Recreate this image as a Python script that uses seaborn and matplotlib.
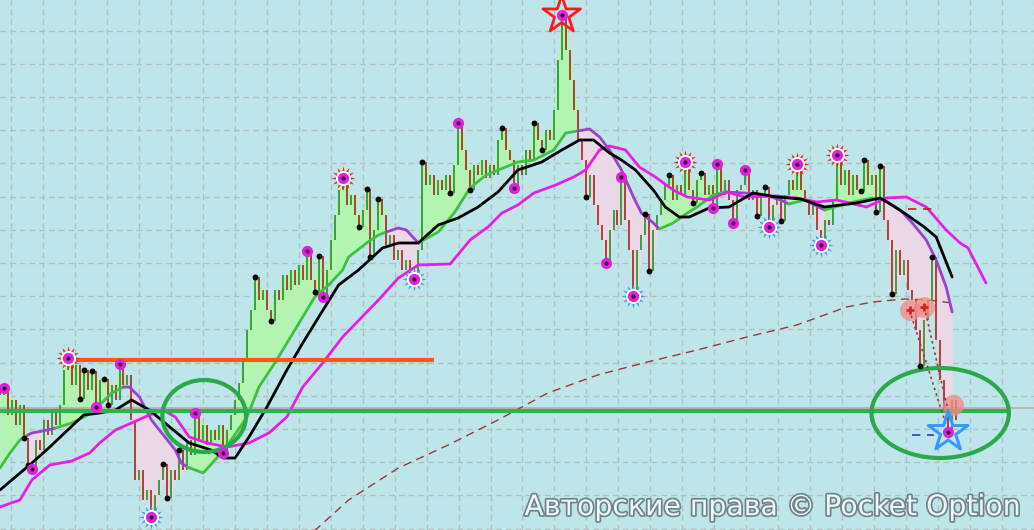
import numpy as np
import seaborn as sns
import matplotlib.pyplot as plt
from matplotlib.patches import Ellipse
import matplotlib.patheffects as pe

# price closes, one per bar (arbitrary points)
closes = [135, 142, 115, 130, 105, 125, 92, 65, 61, 90,
          80, 110, 95, 120, 105, 125, 160, 172, 145, 165,
          131, 160, 140, 159, 123, 150, 151, 125, 145, 130,
          166, 145, 155, 110, 50, 60, 30, 40, 13, 35,
          50, 66, 32, 60, 50, 80, 60, 90, 75, 117,
          90, 105, 85, 100, 90, 105, 77, 100, 115, 130,
          147, 170, 200, 220, 253, 230, 240, 220, 209, 240,
          230, 255, 240, 260, 245, 265, 250, 279, 250, 238,
          274, 233, 260, 290, 315, 340, 352, 325, 335, 315,
          303, 320, 341, 273, 300, 331, 315, 285, 295, 270,
          280, 260, 270, 255, 251, 280, 368, 345, 355, 335,
          350, 340, 355, 337, 365, 407, 380, 360, 340, 365,
          355, 370, 352, 365, 355, 390, 402, 380, 370, 342,
          365, 355, 380, 370, 407, 390, 380, 400, 390, 420,
          470, 515, 480, 450, 420, 390, 370, 333, 355, 325,
          305, 290, 267, 300, 320, 305, 353, 310, 280, 234,
          280, 295, 316, 259, 300, 315, 330, 345, 355, 330,
          345, 335, 368, 340, 327, 350, 357, 335, 345, 322,
          366, 335, 350, 330, 307, 340, 345, 360, 330, 340,
          314, 335, 343, 303, 325, 335, 309, 335, 350, 340,
          366, 340, 330, 315, 325, 300, 285, 310, 305, 330,
          375, 345, 360, 335, 355, 340, 339, 370, 345, 355,
          318, 364, 310, 290, 236, 280, 255, 270, 240, 230,
          200, 164, 210, 230, 273, 190, 150, 120, 98, 130, 110]

# fast MA (black)
ma_fast_x = [0, 8, 12.5, 17, 21, 25, 29, 33, 37.5, 42, 47.5, 53, 56, 59, 62.5, 67, 72, 76, 80, 85,
             90, 96, 100, 105, 110, 115, 120, 125, 130, 136, 141, 145.5, 149, 153, 156, 159.5, 164,
             167, 170.5, 173, 178, 183, 189, 195, 201, 207, 215, 221, 227, 232, 235, 239]
ma_fast_y = [40, 67, 83, 100, 115, 117, 120, 130, 120, 105, 87, 80, 72, 72, 93, 123, 160, 187, 213, 245,
             260, 282, 287, 287, 305, 312, 323, 338, 360, 368, 380, 390, 390, 377, 370, 360, 340,
             323, 313, 313, 322, 323, 337, 333, 331, 323, 327, 332, 317, 303, 293, 253]

# slow MA (magenta)
ma_slow_x = [0, 5, 8, 12.5, 18, 22.5, 25, 29, 33, 37.5, 41, 44, 47.5, 52, 57, 62.5, 67.5, 72, 76, 81,
             86, 95, 100, 105, 113, 118, 122.5, 126, 130, 134, 139.5, 144, 147, 150.5, 153, 157,
             160.5, 164.5, 169, 172.5, 178, 182.5, 187, 195, 200, 205, 210, 217.5, 222.5, 227.5,
             232.5, 237.5, 241, 243, 247.5]
ma_slow_y = [23, 30, 50, 65, 69, 77, 87, 100, 107, 115, 120, 113, 93, 87, 83, 87, 97, 113, 143, 167,
             193, 230, 252, 265, 266, 290, 303, 317, 325, 337, 345, 353, 360, 380, 384, 380,
             363, 353, 340, 333, 330, 338, 333, 334, 332, 328, 330, 323, 332, 333,
             323, 300, 287, 282, 247]

# long MA (brown dashed)
ma_long_x = [75, 87.5, 100, 112.5, 125, 137.5, 150, 162.5, 175, 187.5, 200, 212.5, 219, 227, 233, 239]
ma_long_y = [-15, 30, 62, 85, 110, 137, 155, 168, 180, 193, 205, 223, 228, 231, 230, 227]

# trend trail line and its states
trail_x = [0, 2.5, 5, 7, 8, 12, 14, 18, 22, 25, 28, 31, 32.5, 35, 38, 42, 44, 45.5, 47, 51, 54, 57.5,
           62, 65, 69, 72.5, 76, 79, 82.5, 86, 87.5, 92, 95, 97, 100, 102, 105, 110, 114, 118, 122,
           127, 130, 134, 139, 142, 145, 148, 150.5, 153, 156, 159, 161, 164, 165.5, 169, 172.5,
           175, 179, 182, 187, 192, 196, 198, 202, 207, 213, 219, 222, 226, 229, 232.5, 235,
           237.5, 239]
trail_y = [62, 77, 90, 95, 97, 100, 102, 107, 115, 125, 137, 143, 143, 133, 110, 90, 80, 67, 63, 57, 70, 87,
           113, 143, 167, 190, 213, 233, 245, 260, 273, 287, 295, 298, 302, 300, 287, 298, 317, 342, 355,
           363, 368, 370, 380, 397, 399, 401, 393, 380, 360, 333, 317, 307, 301, 307, 317,
           323, 335, 338, 337, 335, 330, 326, 330, 320, 327, 332, 330, 320, 307, 290, 270,
           243, 218]
trend = [(0, 7, "up"), (7, 14, "dn"), (14, 31, "up"), (31, 47, "dn"), (47, 97, "up"), (97, 105, "dn"),
         (105, 145, "up"), (145, 165.5, "dn"), (165.5, 182, "up"), (182, 198, "dn"), (198, 202, "up"),
         (202, 207, "dn"), (207, 222, "up"), (222, 239, "dn")]

# signal bars
dot_magenta = [1, 8, 24, 30, 49, 56, 77, 81, 115, 129, 152, 156, 179, 180, 184, 187]
dot_black = [6, 7, 20, 21, 23, 26, 27, 41, 42, 45, 64, 68, 79, 80, 90, 92, 93, 95, 106, 113, 118, 126,
             134, 136, 147, 162, 163, 168, 174, 176, 190, 192, 196, 216, 217, 220, 221, 224, 231, 234]
sun_red = [17, 86, 172, 200, 210]
gear_blue = [38, 104, 159, 193, 206]
star_top = 141
star_bottom = 238

resistance = 170
support = 119
last_price = 122

closes = np.array(closes, dtype=float)
idx = np.arange(len(closes))
opens = np.r_[closes[0] + 8, closes[:-1]]
high = np.maximum(opens, closes)
low = np.minimum(opens, closes)

sns.set_theme(style="whitegrid")
fig = plt.figure(figsize=(10.34, 5.30), dpi=100)
ax = fig.add_axes([0, 0, 1, 1])
ax.set_facecolor("#bee6ea")
ax.set_xlim(0, 258.5)
ax.set_ylim(0, 530)
ax.set_xticks([(11 + 32.1 * k) / 4 for k in range(33)])
ax.set_yticks([530 - (30.5 + 33.2 * k) for k in range(16)])
ax.set_xticklabels([])
ax.set_yticklabels([])
ax.tick_params(length=0)
ax.grid(True, color="#afc0c4", linestyle=(0, (4, 3)), linewidth=1)
for s in ax.spines.values():
    s.set_visible(False)

# trend fills
trail_bar = np.interp(idx, trail_x, trail_y)
for a, b, t in trend:
    m = (idx >= a) & (idx <= b)
    if t == "up":
        ax.fill_between(idx[m], trail_bar[m], high[m], color="#b3f5b0", lw=0, zorder=1)
    else:
        ax.fill_between(idx[m], trail_bar[m], low[m], color="#ead8e6", lw=0, zorder=1)

ax.axhline(last_price, color="#b4b8b8", lw=1.5, zorder=1.5)

# bars
cols = np.where(closes >= opens, "#2e9a2e", "#a8352b")
ax.vlines(idx, low, high, colors=cols, lw=1.3, zorder=2)

# trail line by state
xs = np.arange(0, 239.01, 0.25)
ts = np.interp(xs, trail_x, trail_y)
for a, b, t in trend:
    m = (xs >= a) & (xs <= b)
    ax.plot(xs[m], ts[m], color="#3cc23c" if t == "up" else "#9a42c8", lw=2, zorder=3)

sns.lineplot(x=ma_long_x, y=ma_long_y, ax=ax, color="#a0372e", lw=1, dashes=False,
             linestyle=(0, (6, 4)), zorder=2.5)
sns.lineplot(x=ma_slow_x, y=ma_slow_y, ax=ax, color="#e81de8", lw=2, zorder=3)
sns.lineplot(x=ma_fast_x, y=ma_fast_y, ax=ax, color="black", lw=2, zorder=3.1)

# levels
ax.hlines(resistance, 17, 109, color="#ff5514", lw=3, zorder=4)
ax.hlines(support, 0, 253.5, color="#2db34b", lw=3, zorder=4)
ax.add_patch(Ellipse((51.25, 114), 21, 72, fill=False, ec="#2aa84a", lw=3, zorder=4))
ax.add_patch(Ellipse((236, 117), 34.5, 90, fill=False, ec="#2aa84a", lw=3, zorder=4))

# small drawing near the end
ax.scatter([228.3, 232, 239.3], [220, 223, 125], s=230, color="#f08c84", alpha=0.75, lw=0, zorder=4)
ax.scatter([228.3, 232], [220, 223], s=40, marker="+", color="#e02020", lw=2, zorder=4.2)
ax.plot([228.3, 237.5], [220, 105], color="#b03030", lw=1.2, linestyle=(0, (1.5, 2)), zorder=4)
ax.plot([232, 238.5], [223, 110], color="#b03030", lw=1.2, linestyle=(0, (1.5, 2)), zorder=4)
ax.hlines(321, 228, 234, color="#c02020", lw=1.2, linestyle=(0, (5, 4)), zorder=4)
ax.hlines(95, 229, 234.5, color="#2040d0", lw=1.2, linestyle=(0, (5, 4)), zorder=4)

# signal markers
sns.scatterplot(x=idx[dot_black], y=closes[dot_black], ax=ax, s=18, color="black", lw=0, zorder=5)
for pos, c in [(sun_red, "#e8261e"), (gear_blue, "#3b9be8")]:
    ax.scatter(idx[pos], closes[pos], s=300, marker=(12, 1, 0), color=c, lw=0, zorder=5)
    ax.scatter(idx[pos], closes[pos], s=120, color="white", lw=0, zorder=5.1)
mag = dot_magenta + sun_red + gear_blue + [star_top, star_bottom]
sns.scatterplot(x=idx[mag], y=closes[mag], ax=ax, s=65, color="#e020e0", lw=0, zorder=5.2)
sns.scatterplot(x=idx[mag], y=closes[mag], ax=ax, s=9, color="#3a0838", lw=0, zorder=5.3)
ax.scatter(idx[star_top], closes[star_top], s=800, marker="*", facecolor="none",
           edgecolor="#ff1a1a", lw=2, zorder=5)
ax.scatter(idx[star_bottom], closes[star_bottom], s=900, marker="*", facecolor="none",
           edgecolor="#3399ff", lw=2.2, zorder=5)

ax.text(0.988, 0.028, "Авторские права © Pocket Option", transform=ax.transAxes,
        ha="right", va="baseline", fontsize=20.4, family="DejaVu Sans", color="#eef8fa",
        path_effects=[pe.withStroke(linewidth=2.5, foreground="#6f8388")], zorder=6)

fig.savefig("out.png", dpi=100)
